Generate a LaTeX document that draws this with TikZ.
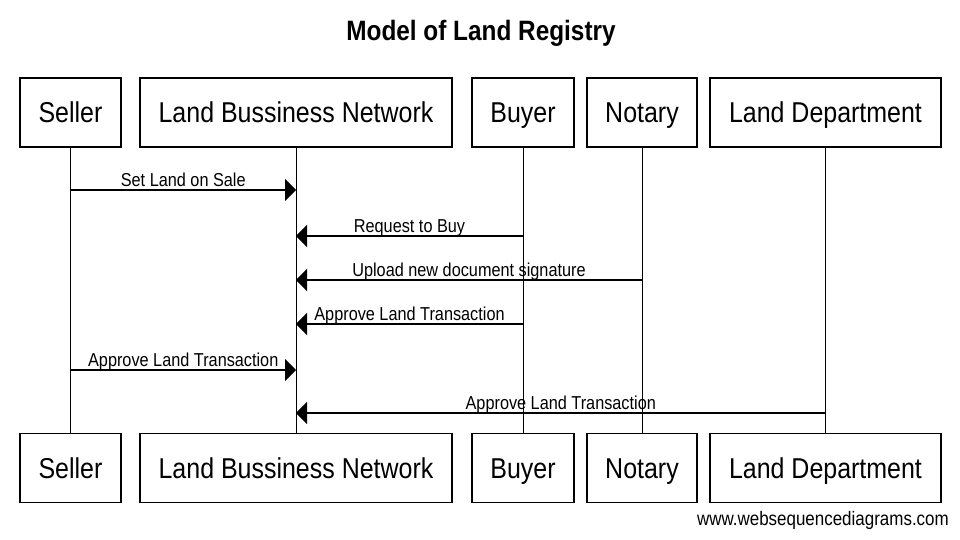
\documentclass[tikz,border=0pt]{standalone}
\usepackage{fontspec}
\setmainfont{Liberation Sans}[FakeStretch=0.87]
\usetikzlibrary{arrows.meta}

\begin{document}
\begin{tikzpicture}[x=1pt, y=-1pt,
   actor/.style={draw, line width=1.2pt, minimum height=69pt, inner sep=0pt,
                 text height=20.6pt, text depth=0pt,
                 font=\fontsize{28.7}{32}\selectfont},
   life/.style={line width=0.9pt},
   msg/.style={line width=1.2pt, -{Triangle[length=11pt, width=22pt]}},
   txt/.style={midway, anchor=base, yshift=4pt, inner sep=0pt,
               font=\fontsize{18.7}{22}\selectfont}]

\useasboundingbox (0,0) rectangle (960,540);

\node[font=\bfseries\fontsize{28}{32}\selectfont] (title) at (481,33) {Model of Land Registry};

% actors at the top
\node[actor, minimum width=101pt] (sellerT) at (70.5,112.5) {Seller};
\node[actor, minimum width=312pt] (lbnT)    at (296,112.5)  {Land Bussiness Network};
\node[actor, minimum width=102pt] (buyerT)  at (523,112.5)  {Buyer};
\node[actor, minimum width=110pt] (notaryT) at (642,112.5)  {Notary};
\node[actor, minimum width=231pt] (landT)   at (825.5,112.5) {Land Department};

% actors at the bottom
\node[actor, minimum width=101pt] (sellerB) at (70.5,468) {Seller};
\node[actor, minimum width=312pt] (lbnB)    at (296,468)  {Land Bussiness Network};
\node[actor, minimum width=102pt] (buyerB)  at (523,468)  {Buyer};
\node[actor, minimum width=110pt] (notaryB) at (642,468)  {Notary};
\node[actor, minimum width=231pt] (landB)   at (825.5,468) {Land Department};

% lifelines
\foreach \a in {seller, lbn, buyer, notary, land}
    \draw[life] (\a T.south) -- (\a B.north);

% messages
\draw[msg] (sellerT.south |- 0,190) -- (lbnT.south |- 0,190)
    node[txt] {Set Land on Sale};
\draw[msg] (buyerT.south |- 0,236) -- (lbnT.south |- 0,236)
    node[txt] {Request to Buy};
\draw[msg] (notaryT.south |- 0,280) -- (lbnT.south |- 0,280)
    node[txt] {Upload new document signature};
\draw[msg] (buyerT.south |- 0,324) -- (lbnT.south |- 0,324)
    node[txt] {Approve Land Transaction};
\draw[msg] (sellerT.south |- 0,370) -- (lbnT.south |- 0,370)
    node[txt] {Approve Land Transaction};
\draw[msg] (landT.south |- 0,413) -- (lbnT.south |- 0,413)
    node[txt] {Approve Land Transaction};

\node[anchor=base east, inner sep=0pt, font=\fontsize{19.5}{22}\selectfont] (site)
    at (949,525) {www.websequencediagrams.com};

\end{tikzpicture}
\end{document}
